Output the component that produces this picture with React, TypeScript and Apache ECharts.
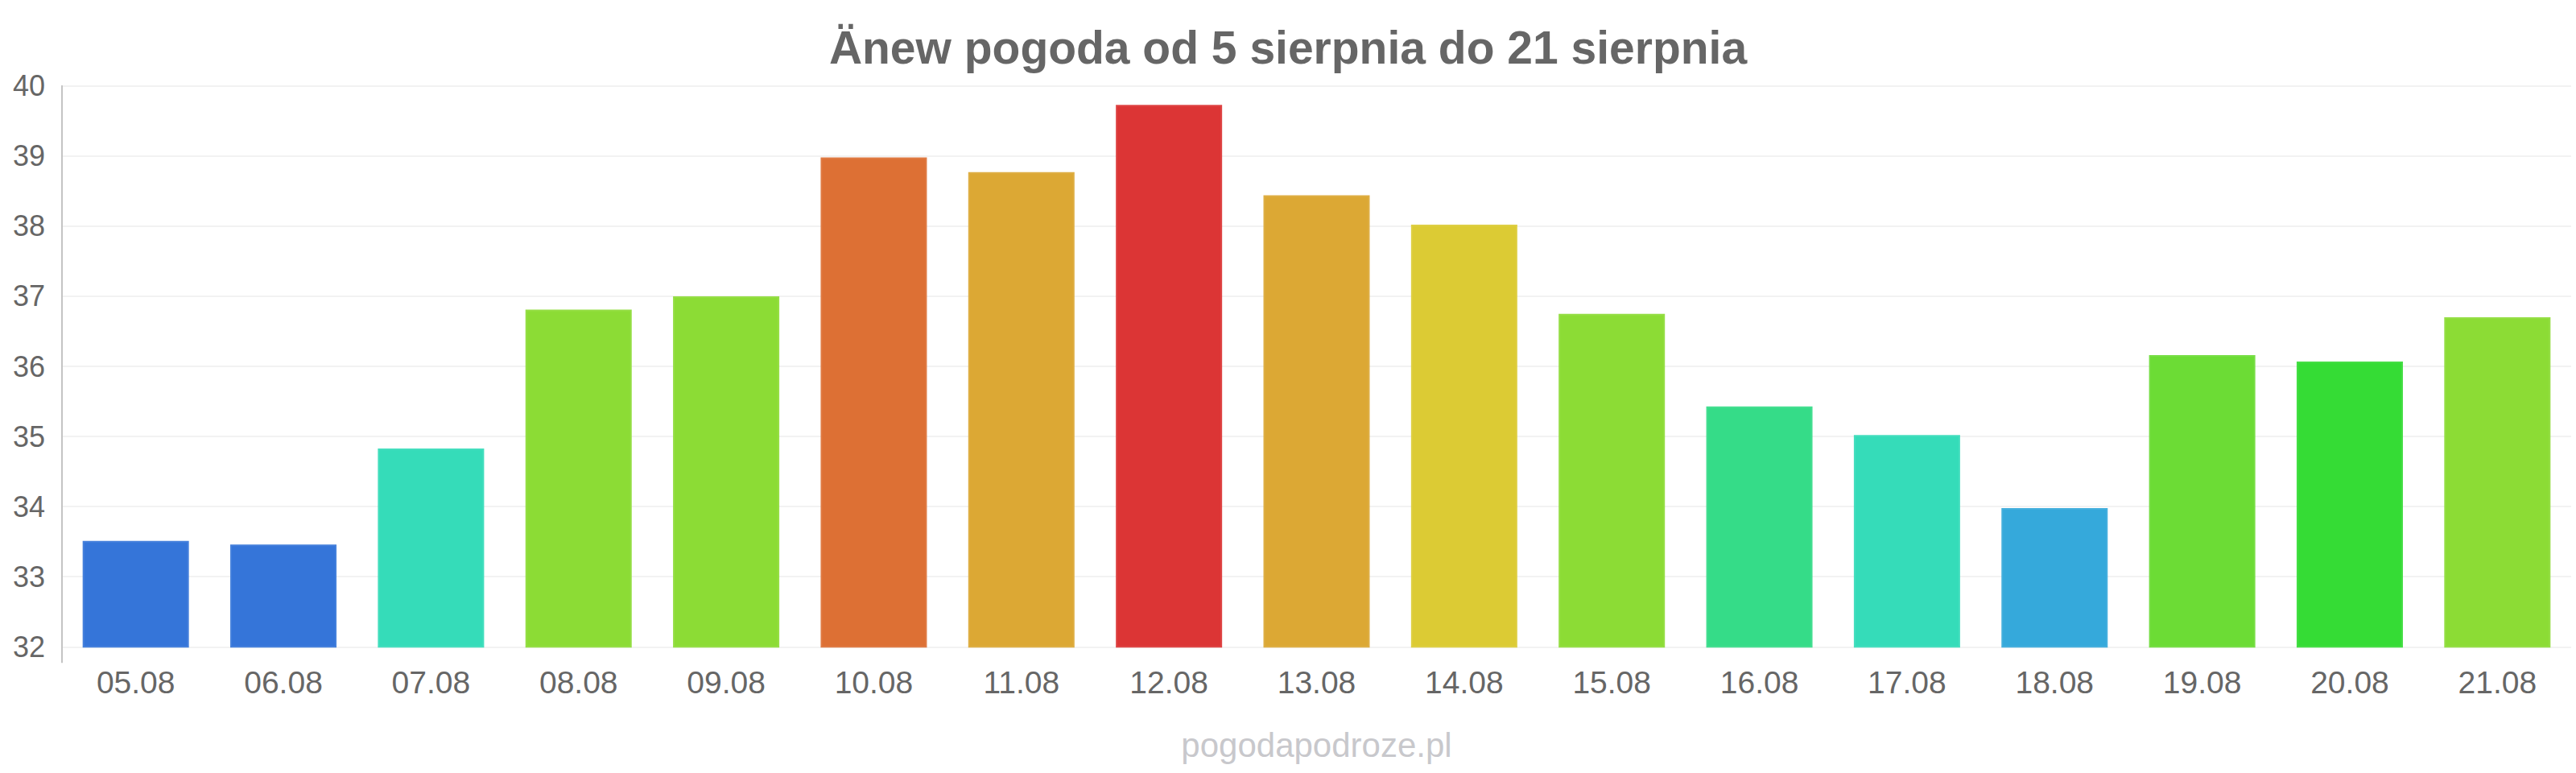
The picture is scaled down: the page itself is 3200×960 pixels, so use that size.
import React, { useEffect, useRef } from "react";
import * as echarts from "echarts";

const categories = [
  "05.08", "06.08", "07.08", "08.08", "09.08", "10.08", "11.08", "12.08", "13.08",
  "14.08", "15.08", "16.08", "17.08", "18.08", "19.08", "20.08", "21.08",
];
const values = [
  33.51, 33.46, 34.83, 36.81, 37.0, 38.98, 38.77, 39.73, 38.44,
  38.02, 36.75, 35.43, 35.02, 33.98, 36.16, 36.07, 36.7,
];
const barColors = [
  "#3575d9", "#3575d9", "#35dcb9", "#8cdc35", "#8cdc35", "#dd7034", "#dca834", "#dc3535", "#dca834",
  "#dccb34", "#8cdc35", "#35dc88", "#35dcb9", "#35a9db", "#6cdc35", "#35dc35", "#8cdc35",
];
const yTicks = { min: 32, max: 40, interval: 1 };
const titleText = "Änew pogoda od 5 sierpnia do 21 sierpnia";
const watermark = "pogodapodroze.pl";

const FONT = '"Liberation Sans", Arial, Helvetica, sans-serif';

export default function App() {
  const ref = useRef<HTMLDivElement>(null);

  useEffect(() => {
    document.body.style.margin = "0";
    if (!ref.current) return;
    const chart = echarts.init(ref.current, undefined, { renderer: "svg" });
    const gridLeft = 77;
    const gridRight = 6;
    const gridTop = 106.7;
    const gridBottom = 156.7;
    const plotCenterX = gridLeft + (3200 - gridLeft - gridRight) / 2;

    chart.setOption({
      animation: false,
      backgroundColor: "#ffffff",
      textStyle: { fontFamily: FONT },
      title: {
        text: titleText,
        left: "center",
        top: 25,
        textStyle: {
          fontFamily: FONT,
          fontSize: 57,
          fontWeight: "bold",
          color: "#666666",
        },
      },
      grid: {
        left: gridLeft,
        right: gridRight,
        top: gridTop,
        bottom: gridBottom,
        containLabel: false,
      },
      xAxis: {
        type: "category",
        data: categories,
        axisLine: { show: false },
        axisTick: { show: false },
        axisLabel: {
          color: "#666666",
          fontSize: 39,
          fontFamily: FONT,
          margin: 25,
        },
        splitLine: { show: false },
      },
      yAxis: {
        type: "value",
        min: yTicks.min,
        max: yTicks.max,
        interval: yTicks.interval,
        axisLine: { show: true, lineStyle: { color: "#c4c4c4", width: 2 } },
        axisTick: { show: false },
        axisLabel: {
          color: "#666666",
          fontSize: 36,
          fontFamily: FONT,
          margin: 21,
        },
        splitLine: { show: true, lineStyle: { color: "#f2f2f2", width: 2 } },
      },
      graphic: [
        {
          type: "line",
          shape: { x1: gridLeft, y1: 960 - gridBottom, x2: gridLeft, y2: 960 - gridBottom + 20 },
          style: { stroke: "#c4c4c4", lineWidth: 2 },
          z: 10,
        },
        {
          type: "text",
          x: plotCenterX,
          y: 925,
          style: {
            text: watermark,
            fill: "#c8c8cc",
            fontSize: 42,
            fontFamily: FONT,
            textAlign: "center",
            textVerticalAlign: "middle",
          },
        },
      ],
      series: [
        {
          type: "bar",
          barWidth: "72%",
          data: values.map((v, i) => ({
            value: v,
            itemStyle: {
              color: barColors[i],
              borderColor: echarts.color.lift(barColors[i], 0.08),
              borderWidth: 2,
            },
          })),
        },
      ],
    });

    return () => {
      chart.dispose();
    };
  }, []);

  return <div ref={ref} style={{ width: 3200, height: 960 }} />;
}
